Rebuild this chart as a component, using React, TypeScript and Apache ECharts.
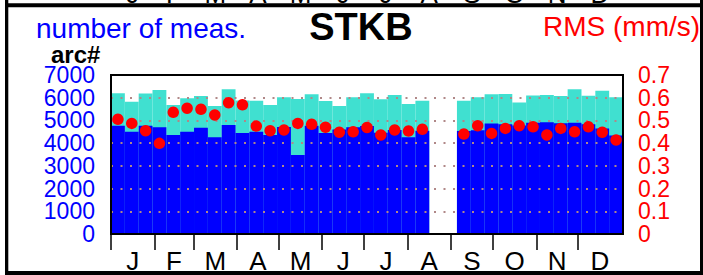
import React, { useEffect, useRef } from "react";
import * as echarts from "echarts";

// 37 equal bins across the year
const binLabels = [
  "1", "2", "3", "4", "5", "6", "7", "8", "9", "10", "11", "12", "13", "14", "15", "16", "17", "18", "19",
  "20", "21", "22", "23", "24", "25", "26", "27", "28", "29", "30", "31", "32", "33", "34", "35", "36", "37",
];

// total number of measurements (turquoise)
const totalMeas = [
  6200, 5820, 6190, 6340, 5680, 5975, 6075, 5635, 6370, 5880, 5870, 5680, 6020, 5945, 6150, 5855, 5635, 6020, 6195,
  5930, 6120, 5725, 5870, null, null, 5870, 6020, 6150, 6165, 5790, 6100, 6120, 6075, 6370, 6085, 6310, 6020,
];

// arc# (blue)
const arcCount = [
  4770, 4500, 4770, 4700, 4360, 4500, 4680, 4260, 4800, 4450, 4500, 4360, 4710, 3480, 4770, 4450, 4600, 4700, 4755,
  4460, 4580, 4260, 4550, null, null, 4530, 4570, 4860, 4830, 4780, 4900, 4920, 4875, 4900, 4830, 4650, 4340,
];

// RMS (mm/s) (red dots)
const rmsValues = [
  0.505, 0.487, 0.455, 0.399, 0.536, 0.554, 0.549, 0.524, 0.578, 0.569, 0.475, 0.455, 0.458, 0.487, 0.483, 0.47,
  0.448, 0.45, 0.469, 0.436, 0.458, 0.453, 0.461, null, null, 0.44, 0.477, 0.443, 0.465, 0.477, 0.472, 0.436, 0.465,
  0.45, 0.472, 0.448, 0.414,
];

const monthLetters = ["J", "F", "M", "A", "M", "J", "J", "A", "S", "O", "N", "D"];
const monthStartDays = [0, 31, 59, 90, 120, 151, 181, 212, 243, 273, 304, 334];
const monthMidDays = [15.5, 45, 74.5, 105, 135.5, 166, 196.5, 227.5, 258, 288.5, 319, 349.5];

const leftTicks = [0, 1000, 2000, 3000, 4000, 5000, 6000, 7000];
const leftTickLabels = ["0", "1000", "2000", "3000", "4000", "5000", "6000", "7000"];
const rightTicks = [0, 0.1, 0.2, 0.3, 0.4, 0.5, 0.6, 0.7];
const rightTickLabels = ["0", "0.1", "0.2", "0.3", "0.4", "0.5", "0.6", "0.7"];

const FONT = "'Liberation Sans', Arial, Helvetica, sans-serif";

export default function App() {
  const ref = useRef<HTMLDivElement>(null);

  useEffect(() => {
    if (!ref.current) return;
    const chart = echarts.init(ref.current, null, { renderer: "svg" });

    const gridL = 111;
    const gridT = 75;
    const gridW = 512;
    const gridH = 159;
    const pxPerDay = gridW / 366;

    const topLetters = monthLetters.map((m, i) => ({
      type: "text",
      z: 50,
      style: {
        text: m,
        x: gridL + monthMidDays[i] * pxPerDay,
        y: -6,
        align: "center",
        verticalAlign: "middle",
        fontSize: 26,
        fontFamily: FONT,
        fill: "#000",
      },
    }));

    const baseGraphics: any[] = [
      {
        type: "rect",
        z: 100,
        shape: { x: gridL, y: gridT, width: gridW, height: gridH },
        style: { fill: "none", stroke: "#000", lineWidth: 2 },
      },
      // outer frame
      { type: "rect", z: 100, shape: { x: 5, y: 0, width: 3.3, height: 275 }, style: { fill: "#000" } },
      { type: "rect", z: 100, shape: { x: 5, y: 3.3, width: 698, height: 4 }, style: { fill: "#000" } },
      { type: "rect", z: 100, shape: { x: 5, y: 271, width: 698, height: 4 }, style: { fill: "#000" } },
      { type: "rect", z: 100, shape: { x: 700, y: 0, width: 3, height: 275 }, style: { fill: "#000" } },
      ...topLetters,
      {
        type: "text",
        z: 50,
        style: {
          text: "STKB",
          x: 361,
          y: 27,
          align: "center",
          verticalAlign: "middle",
          fontSize: 38,
          fontWeight: "bold",
          fontFamily: FONT,
          fill: "#000",
        },
      },
      {
        type: "text",
        z: 50,
        style: {
          text: "number of meas.",
          x: 36,
          y: 28,
          align: "left",
          verticalAlign: "middle",
          fontSize: 28,
          fontFamily: FONT,
          fill: "#0000ff",
        },
      },
      {
        type: "text",
        z: 50,
        style: {
          text: "RMS (mm/s)",
          x: 543,
          y: 26.5,
          align: "left",
          verticalAlign: "middle",
          fontSize: 28,
          fontFamily: FONT,
          fill: "#ff0000",
        },
      },
      {
        type: "text",
        z: 50,
        style: {
          text: "arc#",
          x: 51,
          y: 54,
          align: "left",
          verticalAlign: "middle",
          fontSize: 24,
          lineHeight: 16,
          fontWeight: "bold",
          fontFamily: FONT,
          fill: "#000",
        },
      },
    ];

    const option: any = {
      animation: false,
      backgroundColor: "#ffffff",
      textStyle: { fontFamily: FONT },
      grid: {
        left: gridL,
        top: gridT,
        width: gridW,
        height: gridH,
        containLabel: false,
        outerBoundsMode: "none",
      },
      xAxis: [
        {
          type: "category",
          data: binLabels,
          boundaryGap: true,
          show: false,
        },
        {
          type: "value",
          min: 0,
          max: 366,
          position: "bottom",
          axisLine: { show: false },
          splitLine: { show: false },
          axisTick: {
            show: true,
            customValues: monthStartDays,
            length: 16,
            inside: false,
            lineStyle: { color: "#000", width: 1.5 },
          },
          axisLabel: {
            customValues: monthMidDays,
            formatter: (v: number) => {
              const idx = monthMidDays.indexOf(v);
              return idx >= 0 ? monthLetters[idx] : "";
            },
            fontSize: 26,
            fontFamily: FONT,
            color: "#000",
            margin: 14,
          },
        },
      ],
      yAxis: [
        {
          type: "value",
          min: leftTicks[0],
          max: leftTicks[leftTicks.length - 1],
          interval: 1000,
          position: "left",
          z: 3,
          axisLine: { show: false },
          axisTick: { show: false },
          axisLabel: { show: false },
          splitLine: {
            show: true,
            lineStyle: { color: "#b08888", width: 2, type: [2, 7.5] },
          },
        },
        {
          type: "value",
          min: rightTicks[0],
          max: rightTicks[rightTicks.length - 1],
          interval: 0.1,
          position: "right",
          axisLine: { show: false },
          axisTick: { show: false },
          splitLine: { show: false },
          axisLabel: { show: false },
        },
      ],
      series: [
        {
          type: "bar",
          name: "number of meas.",
          xAxisIndex: 0,
          yAxisIndex: 0,
          data: totalMeas,
          barWidth: "100%",
          barGap: "-100%",
          barCategoryGap: "0%",
          itemStyle: { color: "#40e0d0" },
          z: 1,
        },
        {
          type: "bar",
          name: "arc#",
          xAxisIndex: 0,
          yAxisIndex: 0,
          data: arcCount,
          barWidth: "100%",
          barGap: "-100%",
          barCategoryGap: "0%",
          itemStyle: { color: "#0000ff" },
          z: 1,
        },
        {
          type: "scatter",
          name: "RMS",
          xAxisIndex: 0,
          yAxisIndex: 1,
          data: rmsValues,
          symbol: "circle",
          symbolSize: 11.5,
          itemStyle: { color: "#ff0000", opacity: 1, borderWidth: 0 },
          z: 5,
        },
      ],
      graphic: baseGraphics,
    };

    chart.setOption(option);

    // tick labels placed with the axes' own scales
    const leftLabels = leftTicks.map((v, i) => ({
      type: "text",
      z: 50,
      style: {
        text: leftTickLabels[i],
        x: gridL - 16,
        y: chart.convertToPixel({ yAxisIndex: 0 }, v) as number,
        align: "right",
        verticalAlign: "middle",
        fontSize: 23,
        lineHeight: 18,
        fontFamily: FONT,
        fill: "#0000ff",
      },
    }));
    const rightLabels = rightTicks.map((v, i) => ({
      type: "text",
      z: 50,
      style: {
        text: rightTickLabels[i],
        x: gridL + gridW + 15,
        y: chart.convertToPixel({ yAxisIndex: 1 }, v) as number,
        align: "left",
        verticalAlign: "middle",
        fontSize: 23,
        lineHeight: 18,
        fontFamily: FONT,
        fill: "#ff0000",
      },
    }));

    chart.setOption({ graphic: [...baseGraphics, ...leftLabels, ...rightLabels] });

    return () => {
      chart.dispose();
    };
  }, []);

  return (
    <div
      ref={ref}
      style={{ position: "absolute", left: 0, top: 0, width: 703, height: 275 }}
    />
  );
}
